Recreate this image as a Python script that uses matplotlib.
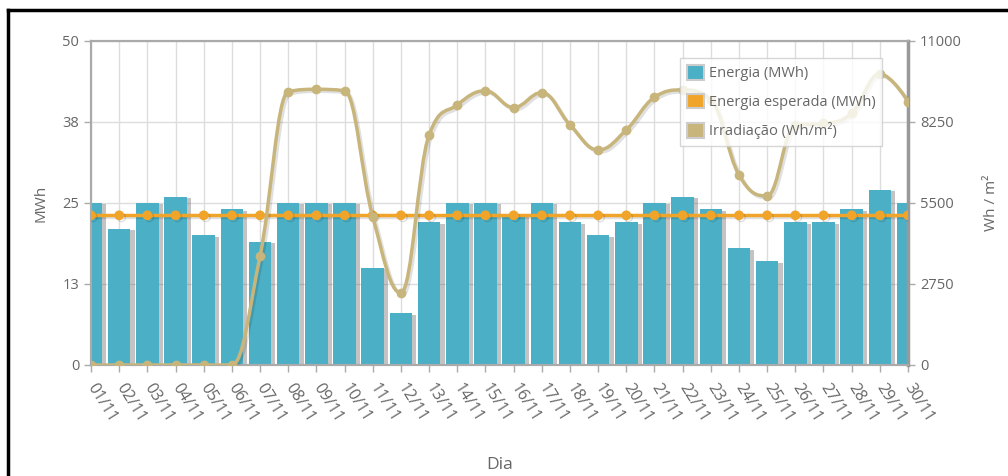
import numpy as np
import matplotlib
matplotlib.use("Agg")
import matplotlib.pyplot as plt
from matplotlib.path import Path
from matplotlib.patches import PathPatch, Patch
import matplotlib.patheffects as pe

plt.rcParams['font.family'] = ['Open Sans', 'DejaVu Sans']

# Dados
dias = [f"{d:02d}/11" for d in range(1, 31)]
energia = [25, 21, 25, 26, 20, 24, 19, 25, 25, 25, 15, 8, 22, 25, 25,
           23, 25, 22, 20, 22, 25, 26, 24, 18, 16, 22, 22, 24, 27, 25]
energia_esperada = [23.1] * 30
irradiacao = [0, 0, 0, 0, 0, 0, 3700, 9280, 9360, 9310, 5030, 2450, 7810, 8830, 9310,
              8740, 9250, 8150, 7300, 7980, 9090, 9340, 9000, 6450, 5740, 8150, 8200, 8550, 9880, 8940]

COR_BARRA = "#4bb0c6"
COR_ESPERADA = "#f0a52a"
COR_IRRAD = "#c8b57c"
COR_TEXTO = "#666666"


# Curva suave no estilo "spline" do Highcharts (só para desenhar a linha)
def caminho_spline(xs, ys, smoothing=1.5):
    denom = smoothing + 1
    n = len(xs)
    left = [None] * n
    right = [None] * n
    for i in range(n):
        x, y = xs[i], ys[i]
        if 0 < i < n - 1:
            lx, ly = xs[i - 1], ys[i - 1]
            nx, ny = xs[i + 1], ys[i + 1]
            lcx = (smoothing * x + lx) / denom
            lcy = (smoothing * y + ly) / denom
            rcx = (smoothing * x + nx) / denom
            rcy = (smoothing * y + ny) / denom
            corr = ((rcy - lcy) * (rcx - x)) / (rcx - lcx) + y - rcy
            lcy += corr
            rcy += corr
            if lcy > ly and lcy > y:
                lcy = max(ly, y)
                rcy = 2 * y - lcy
            elif lcy < ly and lcy < y:
                lcy = min(ly, y)
                rcy = 2 * y - lcy
            if rcy > ny and rcy > y:
                rcy = max(ny, y)
                lcy = 2 * y - rcy
            elif rcy < ny and rcy < y:
                rcy = min(ny, y)
                lcy = 2 * y - rcy
            left[i] = (lcx, lcy)
            right[i] = (rcx, rcy)
        else:
            left[i] = (x, y)
            right[i] = (x, y)
    verts = [(xs[0], ys[0])]
    codes = [Path.MOVETO]
    for i in range(1, n):
        verts += [right[i - 1], left[i], (xs[i], ys[i])]
        codes += [Path.CURVE4] * 3
    return Path(verts, codes)


fig = plt.figure(figsize=(10.08, 4.76), dpi=100)
ax = fig.add_axes([0.0903, 0.2332, 0.8105, 0.6807])
ax2 = ax.twinx()

x = np.arange(len(dias))

# grade
ax.set_axisbelow(True)
ax.grid(True, axis='both', color='#dddddd', linewidth=1)

barras = ax.bar(x, energia, width=0.8, color=COR_BARRA, zorder=2)
for b in barras:
    b.set_path_effects([pe.SimplePatchShadow(offset=(3, -1), shadow_rgbFace='#555555', alpha=0.35),
                        pe.Normal()])

ax2.plot(x, energia_esperada, color=COR_ESPERADA, linewidth=2.5, marker='o', markersize=6,
         transform=ax.transData, zorder=3,
         path_effects=[pe.SimpleLineShadow(offset=(1.5, -1.5), alpha=0.12), pe.Normal()])

curva = PathPatch(caminho_spline(list(x), irradiacao), fill=False, edgecolor=COR_IRRAD,
                  linewidth=2.5, zorder=4,
                  path_effects=[pe.SimpleLineShadow(offset=(1.5, -1.5), alpha=0.12), pe.Normal()])
ax2.add_patch(curva)
ax2.plot(x, irradiacao, linestyle='none', marker='o', markersize=6, color=COR_IRRAD, zorder=5)

ax.set_xlim(0, 29)
ax.set_ylim(0, 50)
ax2.set_ylim(0, 11000)

ax.set_yticks([0, 12.5, 25, 37.5, 50])
ax.set_yticklabels(['0', '13', '25', '38', '50'])
ax2.set_yticks([0, 2750, 5500, 8250, 11000])
ax2.set_yticklabels(['0', '2750', '5500', '8250', '11000'])

ax.set_xticks(x)
ax.set_xticklabels(dias, rotation=-58, ha='left', va='center', rotation_mode='anchor')

for a in (ax, ax2):
    a.tick_params(colors='#aaaaaa', labelcolor=COR_TEXTO, labelsize=10.5, length=5, width=1)
    for s in a.spines.values():
        s.set_color('#aaaaaa')
        s.set_linewidth(1.5)
ax2.spines['right'].set_linewidth(2.5)
ax2.spines['right'].set_color('#999999')
ax.tick_params(axis='x', pad=9, labelsize=11.5)

ax.set_ylabel('MWh', color=COR_TEXTO, fontsize=11, labelpad=10)
ax2.set_ylabel('Wh / m²', color=COR_TEXTO, fontsize=11, rotation=90, labelpad=16)
ax.set_xlabel('Dia', color=COR_TEXTO, fontsize=12.5, labelpad=23)

handles = [Patch(facecolor=COR_BARRA, edgecolor='#cccccc', linewidth=1.5),
           Patch(facecolor=COR_ESPERADA, edgecolor='#cccccc', linewidth=1.5),
           Patch(facecolor=COR_IRRAD, edgecolor='#cccccc', linewidth=1.5)]
leg = ax2.legend(handles, ['Energia (MWh)', 'Energia esperada (MWh)', 'Irradiação (Wh/m²)'],
                 loc='upper left', bbox_to_anchor=(0.721, 0.947), fontsize=10.5, frameon=True,
                 fancybox=False, edgecolor='#cccccc', framealpha=0.8, labelspacing=0.85,
                 handlelength=1.2, handleheight=1.2, handletextpad=0.3, borderpad=0.45,
                 borderaxespad=0)
for t in leg.get_texts():
    t.set_color(COR_TEXTO)
leg.get_frame().set_linewidth(1)

# moldura preta do recorte (topo e esquerda)
fig.add_artist(plt.Line2D([8 / 1008, 1], [1 - 10 / 476, 1 - 10 / 476], color='black', linewidth=2.5,
                          transform=fig.transFigure))
fig.add_artist(plt.Line2D([8 / 1008, 8 / 1008], [0, 1 - 10 / 476], color='black', linewidth=2.5,
                          transform=fig.transFigure))

fig.savefig("out.png", dpi=100)
